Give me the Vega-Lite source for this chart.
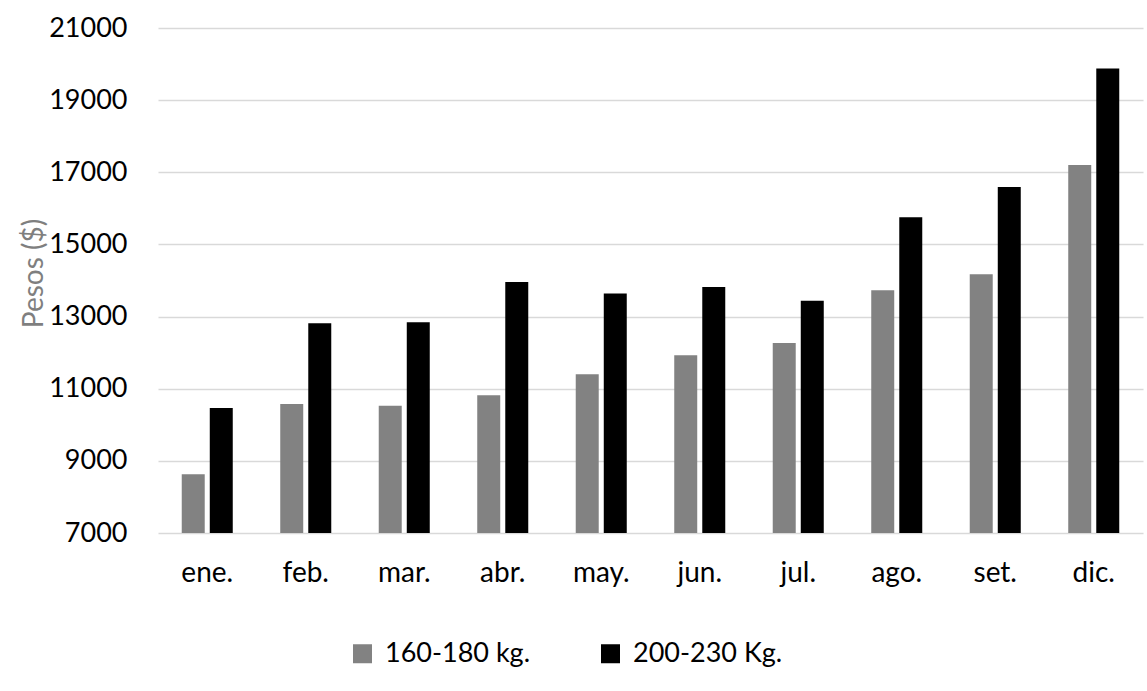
{
  "$schema": "https://vega.github.io/schema/vega-lite/v6.json",
  "width": 985,
  "height": 505,
  "autosize": {"type": "none"},
  "padding": {"left": 158, "top": 28, "right": 4, "bottom": 158},
  "background": "white",
  "data": {
    "values": [
      {"mes": "ene.", "serie": "160-180 kg.", "valor": 8630},
      {"mes": "ene.", "serie": "200-230 Kg.", "valor": 10464},
      {"mes": "feb.", "serie": "160-180 kg.", "valor": 10575},
      {"mes": "feb.", "serie": "200-230 Kg.", "valor": 12817},
      {"mes": "mar.", "serie": "160-180 kg.", "valor": 10528},
      {"mes": "mar.", "serie": "200-230 Kg.", "valor": 12844},
      {"mes": "abr.", "serie": "160-180 kg.", "valor": 10816},
      {"mes": "abr.", "serie": "200-230 Kg.", "valor": 13955},
      {"mes": "may.", "serie": "160-180 kg.", "valor": 11400},
      {"mes": "may.", "serie": "200-230 Kg.", "valor": 13639},
      {"mes": "jun.", "serie": "160-180 kg.", "valor": 11928},
      {"mes": "jun.", "serie": "200-230 Kg.", "valor": 13817},
      {"mes": "jul.", "serie": "160-180 kg.", "valor": 12269},
      {"mes": "jul.", "serie": "200-230 Kg.", "valor": 13436},
      {"mes": "ago.", "serie": "160-180 kg.", "valor": 13729},
      {"mes": "ago.", "serie": "200-230 Kg.", "valor": 15754},
      {"mes": "set.", "serie": "160-180 kg.", "valor": 14170},
      {"mes": "set.", "serie": "200-230 Kg.", "valor": 16590},
      {"mes": "dic.", "serie": "160-180 kg.", "valor": 17205},
      {"mes": "dic.", "serie": "200-230 Kg.", "valor": 19880}
    ]
  },
  "mark": {"type": "bar"},
  "encoding": {
    "x": {
      "field": "mes",
      "type": "nominal",
      "sort": ["ene.", "feb.", "mar.", "abr.", "may.", "jun.", "jul.", "ago.", "set.", "dic."],
      "scale": {"paddingInner": 0.482, "paddingOuter": 0.241},
      "axis": {
        "title": null,
        "labelAngle": 0,
        "ticks": false,
        "domain": false,
        "labelPadding": 26,
        "labelFontSize": 28,
        "labelFont": "Lato",
        "labelColor": "#000000"
      }
    },
    "xOffset": {
      "field": "serie",
      "type": "nominal",
      "sort": ["160-180 kg.", "200-230 Kg."],
      "scale": {"paddingInner": 0.18, "paddingOuter": 0}
    },
    "y": {
      "field": "valor",
      "type": "quantitative",
      "scale": {"domain": [7000, 21000], "zero": false, "nice": false},
      "axis": {
        "values": [7000, 9000, 11000, 13000, 15000, 17000, 19000, 21000],
        "format": "d",
        "title": "Pesos ($)",
        "titleFont": "Lato",
        "titleFontSize": 28,
        "titleFontWeight": "normal",
        "titleColor": "#7f7f7f",
        "titleAngle": 270,
        "titleBaseline": "alphabetic",
        "titleAlign": "center",
        "titleX": -116,
        "titleY": 245,
        "grid": true,
        "gridColor": "#d9d9d9",
        "gridWidth": 1.5,
        "domain": false,
        "ticks": false,
        "labelPadding": 31,
        "labelFontSize": 27,
        "labelFont": "Lato",
        "labelColor": "#000000"
      }
    },
    "y2": {"datum": 7000},
    "color": {
      "field": "serie",
      "type": "nominal",
      "scale": {"domain": ["160-180 kg.", "200-230 Kg."], "range": ["#828282", "#000000"]},
      "legend": {
        "title": null,
        "orient": "none",
        "legendX": 191,
        "legendY": 612,
        "direction": "horizontal",
        "symbolType": "square",
        "symbolSize": 361,
        "symbolStrokeWidth": 0,
        "labelFontSize": 27,
        "labelFont": "Lato",
        "labelColor": "#000000",
        "labelOffset": 9,
        "columnPadding": 66,
        "padding": 0
      }
    }
  },
  "config": {"view": {"stroke": null}}
}
